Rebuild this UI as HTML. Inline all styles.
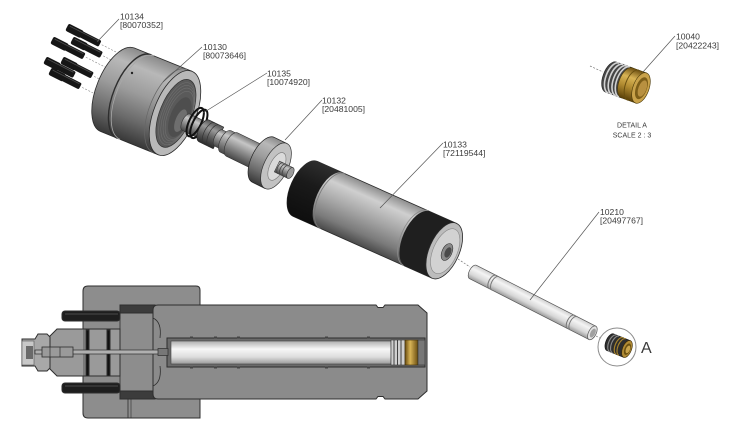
<!DOCTYPE html>
<html><head><meta charset="utf-8"><style>
html,body{margin:0;padding:0;background:#fff;}
svg{display:block;}
text{font-family:"Liberation Sans",sans-serif;fill:#3a3a3a;}
</style></head><body>
<svg width="750" height="426" viewBox="0 0 750 426" xmlns="http://www.w3.org/2000/svg">
<defs>
 <linearGradient id="gA" x1="0" y1="0" x2="0" y2="1">
  <stop offset="0" stop-color="#8a8a8a"/><stop offset="0.18" stop-color="#b8b8b8"/>
  <stop offset="0.45" stop-color="#9c9c9c"/><stop offset="0.75" stop-color="#6a6a6a"/>
  <stop offset="1" stop-color="#383838"/>
 </linearGradient>
 <linearGradient id="gB" x1="0" y1="0" x2="0" y2="1">
  <stop offset="0" stop-color="#8e8e8e"/><stop offset="0.2" stop-color="#cfcfcf"/>
  <stop offset="0.5" stop-color="#a6a6a6"/><stop offset="0.8" stop-color="#7a7a7a"/>
  <stop offset="1" stop-color="#4a4a4a"/>
 </linearGradient>
 <linearGradient id="gR" x1="0" y1="0" x2="0" y2="1">
  <stop offset="0" stop-color="#cfcfcf"/><stop offset="0.3" stop-color="#f4f4f4"/>
  <stop offset="0.7" stop-color="#d6d6d6"/><stop offset="1" stop-color="#9a9a9a"/>
 </linearGradient>
 <linearGradient id="gS" x1="0" y1="0" x2="0" y2="1">
  <stop offset="0" stop-color="#7a7a7a"/><stop offset="0.25" stop-color="#c6c6c6"/>
  <stop offset="0.6" stop-color="#8a8a8a"/><stop offset="1" stop-color="#474747"/>
 </linearGradient>
 <linearGradient id="gH" x1="0" y1="0" x2="0" y2="1">
  <stop offset="0" stop-color="#555"/><stop offset="0.3" stop-color="#9a9a9a"/>
  <stop offset="0.65" stop-color="#5a5a5a"/><stop offset="1" stop-color="#2a2a2a"/>
 </linearGradient>
 <linearGradient id="gK" x1="0" y1="0" x2="0" y2="1">
  <stop offset="0" stop-color="#2e2e2e"/><stop offset="0.4" stop-color="#1a1a1a"/>
  <stop offset="1" stop-color="#0e0e0e"/>
 </linearGradient>
 <linearGradient id="gBr" x1="0" y1="0" x2="0" y2="1">
  <stop offset="0" stop-color="#6a4d10"/><stop offset="0.3" stop-color="#d9b455"/>
  <stop offset="0.6" stop-color="#b08a30"/><stop offset="1" stop-color="#5a4008"/>
 </linearGradient>
 <linearGradient id="gBrH" x1="0" y1="0" x2="1" y2="0">
  <stop offset="0" stop-color="#6a4d10"/><stop offset="0.4" stop-color="#d8b456"/>
  <stop offset="1" stop-color="#6a4d10"/>
 </linearGradient>
 <linearGradient id="gP" x1="0" y1="0" x2="0" y2="1">
  <stop offset="0" stop-color="#aeaeae"/><stop offset="0.35" stop-color="#f7f7f7"/>
  <stop offset="0.7" stop-color="#dcdcdc"/><stop offset="1" stop-color="#9a9a9a"/>
 </linearGradient>
</defs>

<!-- ========== BOLTS 10134 ========== -->
<g fill="#161616">
 <g transform="translate(67,27) rotate(27)"><rect x="0" y="-4" width="17" height="8" rx="2"/><rect x="15" y="-3.4" width="22" height="6.8" rx="1.5"/><line x1="2" y1="-2" x2="35" y2="-2" stroke="#4a4a4a" stroke-width="0.9"/><line x1="39" y1="0" x2="56" y2="0" stroke="#888" stroke-width="0.6" stroke-dasharray="2 1.5"/></g>
 <g transform="translate(52,40) rotate(27)"><rect x="0" y="-4" width="17" height="8" rx="2"/><rect x="15" y="-3.4" width="21" height="6.8" rx="1.5"/><line x1="2" y1="-2" x2="34" y2="-2" stroke="#4a4a4a" stroke-width="0.9"/><line x1="38" y1="0" x2="62" y2="0" stroke="#888" stroke-width="0.6" stroke-dasharray="2 1.5"/></g>
 <g transform="translate(72,40) rotate(27)"><rect x="0" y="-4" width="16" height="8" rx="2"/><rect x="14" y="-3.4" width="19" height="6.8" rx="1.5"/><line x1="2" y1="-2" x2="31" y2="-2" stroke="#4a4a4a" stroke-width="0.9"/><line x1="35" y1="0" x2="48" y2="0" stroke="#888" stroke-width="0.6" stroke-dasharray="2 1.5"/></g>
 <g transform="translate(45,60) rotate(27)"><rect x="0" y="-4" width="16" height="8" rx="2"/><rect x="14" y="-3.4" width="19" height="6.8" rx="1.5"/><line x1="2" y1="-2" x2="31" y2="-2" stroke="#4a4a4a" stroke-width="0.9"/></g>
 <g transform="translate(62,60) rotate(27)"><rect x="0" y="-4" width="16" height="8" rx="2"/><rect x="14" y="-3.4" width="20" height="6.8" rx="1.5"/><line x1="2" y1="-2" x2="32" y2="-2" stroke="#4a4a4a" stroke-width="0.9"/><line x1="36" y1="0" x2="50" y2="0" stroke="#888" stroke-width="0.6" stroke-dasharray="2 1.5"/></g>
 <g transform="translate(50,71) rotate(27)"><rect x="0" y="-4" width="16" height="8" rx="2"/><rect x="14" y="-3.4" width="20" height="6.8" rx="1.5"/><line x1="2" y1="-2" x2="32" y2="-2" stroke="#4a4a4a" stroke-width="0.9"/><line x1="36" y1="0" x2="52" y2="0" stroke="#888" stroke-width="0.6" stroke-dasharray="2 1.5"/></g>
</g>

<!-- ========== CYLINDER 10130 ========== -->
<g transform="translate(175,113) rotate(22)">
 <path d="M-62,-45 H0 V45 H-62 A21,45 0 0 1 -62,-45 Z" fill="url(#gA)" stroke="#2a2a2a" stroke-width="0.8"/>
 <path d="M-44,-45 A21,45 0 0 0 -44,45" fill="none" stroke="#2e2e2e" stroke-width="1.4"/>
 <path d="M-41,-45 A21,45 0 0 0 -41,45" fill="none" stroke="#a8a8a8" stroke-width="0.8"/>
 <path d="M-5,-45 A21,45 0 0 0 -5,45" fill="none" stroke="#666" stroke-width="0.7"/>
 <ellipse cx="0" cy="0" rx="21" ry="45" fill="#b9b9b9" stroke="#2a2a2a" stroke-width="0.8"/>
 <ellipse cx="1" cy="0" rx="16" ry="36" fill="#5a5a5a" stroke="#333" stroke-width="0.7"/>
 <g fill="none" stroke="#707070" stroke-width="0.6">
  <ellipse cx="2" cy="0" rx="14.5" ry="33"/>
  <ellipse cx="3" cy="0" rx="13.5" ry="30.5"/>
  <ellipse cx="4" cy="0" rx="12.5" ry="28"/>
  <ellipse cx="5" cy="0.5" rx="11.5" ry="25.5"/>
 </g>
 <ellipse cx="6" cy="2" rx="9.5" ry="21" fill="#4e4e4e"/>
 <ellipse cx="8" cy="5" rx="5" ry="12" fill="#6e6e6e"/>
</g>
<circle cx="132" cy="73" r="1.2" fill="#222"/>

<!-- ========== VALVE 10132 (back stub) ========== -->
<g transform="translate(276,166) rotate(26)">
 <path d="M-100,-9 H-80 V9 H-100 A4,9 0 0 1 -100,-9Z" fill="url(#gS)" stroke="#333" stroke-width="0.6"/>
</g>
<!-- O-ring 10135 -->
<g transform="translate(197,123) rotate(26)" fill="none" stroke="#111" stroke-width="2">
 <ellipse cx="-2" cy="0" rx="6" ry="15.5"/>
 <ellipse cx="2" cy="0" rx="6" ry="15.5"/>
</g>
<g transform="translate(276,166) rotate(26)">
 <path d="M-80,-12 H-64 V12 H-80 A5.5,12 0 0 1 -80,-12Z" fill="url(#gH)" stroke="#222" stroke-width="0.6"/>
 <path d="M-74,-12 A5.5,12 0 0 0 -74,12" fill="none" stroke="#333" stroke-width="0.7"/>
 <path d="M-69,-12 A5.5,12 0 0 0 -69,12" fill="none" stroke="#333" stroke-width="0.7"/>
 <path d="M-64,-9 H-56 V9 H-64 A4,9 0 0 1 -64,-9Z" fill="url(#gS)" stroke="#333" stroke-width="0.6"/>
 <path d="M-56,-12 H-49 V12 H-56 A5.5,12 0 0 1 -56,-12Z" fill="url(#gS)" stroke="#333" stroke-width="0.6"/>
 <path d="M-49,-13 H-13 V13 H-49 A6,13 0 0 1 -49,-13Z" fill="url(#gS)" stroke="#333" stroke-width="0.6"/>
 <path d="M-14,-25 H0 V25 H-14 A12,25 0 0 1 -14,-25Z" fill="url(#gA)" stroke="#222" stroke-width="0.7"/>
 <ellipse cx="0" cy="0" rx="12" ry="25" fill="#c2c2c2" stroke="#333" stroke-width="0.7"/>
 <ellipse cx="1" cy="0" rx="7" ry="15" fill="#dadada" stroke="#777" stroke-width="0.6"/>
 <rect x="1" y="-6" width="15" height="12" fill="url(#gS)" stroke="#333" stroke-width="0.5"/>
 <g fill="none" stroke="#444" stroke-width="0.8">
  <path d="M5,-6 A3,6 0 0 0 5,6"/><path d="M8,-6 A3,6 0 0 0 8,6"/><path d="M11,-6 A3,6 0 0 0 11,6"/>
 </g>
 <ellipse cx="16" cy="0" rx="3" ry="6" fill="#9a9a9a" stroke="#333" stroke-width="0.6"/>
</g>

<!-- ========== BIG CYLINDER 10133 ========== -->
<g transform="translate(447,252) rotate(24)">
 <path d="M-155,-30 H-3 V30 H-155 A15,30 0 0 1 -155,-30Z" fill="url(#gB)" stroke="#2a2a2a" stroke-width="0.8"/>
 <path d="M-155,-30 H-127 A15,30 0 0 0 -127,30 H-155 A15,30 0 0 1 -155,-30Z" fill="url(#gK)"/>
 <path d="M-125,-30 A15,30 0 0 0 -125,30" fill="none" stroke="#777" stroke-width="0.8"/>
 <path d="M-32,-30 H-3 V30 H-32 A15,30 0 0 1 -32,-30Z" fill="#1f1f1f"/>
 <path d="M-34,-30 A15,30 0 0 0 -34,30" fill="none" stroke="#8a8a8a" stroke-width="0.8"/>
 <ellipse cx="-3" cy="0" rx="15" ry="30" fill="#bcbcbc" stroke="#2a2a2a" stroke-width="0.8"/>
 <ellipse cx="-2" cy="0" rx="12" ry="24" fill="#d2d2d2" stroke="#8a8a8a" stroke-width="0.6"/>
 <ellipse cx="0" cy="0" rx="5" ry="9" fill="#8a8a8a" stroke="#333" stroke-width="0.6"/>
 <ellipse cx="1" cy="0" rx="3" ry="5.5" fill="#4a4a4a"/>
</g>
<line x1="458" y1="259" x2="470" y2="267" stroke="#777" stroke-width="0.7" stroke-dasharray="2 1.5"/>

<!-- ========== ROD 10210 ========== -->
<g transform="translate(473,272) rotate(27)">
 <path d="M0,-7.5 H134 V7.5 H0 A3.8,7.5 0 0 1 0,-7.5Z" fill="url(#gR)" stroke="#555" stroke-width="0.7"/>
 <g fill="none" stroke="#777" stroke-width="1">
  <path d="M22,-7.5 A3.8,7.5 0 0 0 22,7.5"/><path d="M25,-7.5 A3.8,7.5 0 0 0 25,7.5"/>
  <path d="M110,-7.5 A3.8,7.5 0 0 0 110,7.5"/><path d="M113,-7.5 A3.8,7.5 0 0 0 113,7.5"/>
 </g>
 <ellipse cx="134" cy="0" rx="3.8" ry="7.5" fill="#e4e4e4" stroke="#555" stroke-width="0.7"/>
 <ellipse cx="134.5" cy="0" rx="2.4" ry="4.8" fill="#a0a0a0"/>
</g>
<line x1="596" y1="336" x2="605" y2="341" stroke="#777" stroke-width="0.7" stroke-dasharray="2 1.5"/>

<!-- detail circle A -->
<circle cx="617" cy="347" r="19" fill="#fff" stroke="#8c8c8c" stroke-width="1"/>
<g transform="translate(627,349) rotate(22)">
 <path d="M-18,-9 H0 V9 H-18 A4.5,9 0 0 1 -18,-9Z" fill="#2e2e2e" stroke="#111" stroke-width="0.6"/>
 <g fill="none" stroke-width="1.1">
  <path d="M-15,-9 A4.5,9 0 0 0 -15,9" stroke="#8a8a8a"/>
  <path d="M-12,-9 A4.5,9 0 0 0 -12,9" stroke="#8a8a8a"/>
  <path d="M-8,-9 A4.5,9 0 0 0 -8,9" stroke="#a8842c"/>
  <path d="M-5,-9 A4.5,9 0 0 0 -5,9" stroke="#a8842c"/>
 </g>
 <ellipse cx="0" cy="0" rx="4.5" ry="9" fill="#b08a34" stroke="#3a2a08" stroke-width="0.6"/>
 <ellipse cx="0.5" cy="0" rx="3" ry="6" fill="#6a5010"/>
 <ellipse cx="1" cy="0" rx="2" ry="4" fill="#c9a44c"/>
</g>
<text x="641" y="353" font-size="16" fill="#333">A</text>

<!-- ========== DETAIL A (top right) ========== -->
<line x1="590" y1="66" x2="603" y2="72" stroke="#777" stroke-width="0.7" stroke-dasharray="2 1.5"/>
<g transform="translate(641,88) rotate(20)">
 <path d="M-32,-16 H-15 V16 H-32 A8,16 0 0 1 -32,-16Z" fill="#454545" stroke="#222" stroke-width="0.6"/>
 <g fill="none" stroke="#d2d2d2" stroke-width="1.6">
  <path d="M-29,-16 A8,16 0 0 0 -29,16"/><path d="M-25,-16 A8,16 0 0 0 -25,16"/>
  <path d="M-21,-16 A8,16 0 0 0 -21,16"/><path d="M-17.5,-16 A8,16 0 0 0 -17.5,16"/>
 </g>
 <path d="M-15,-16 H0 V16 H-15 A8,16 0 0 1 -15,-16Z" fill="url(#gBr)" stroke="#4a3808" stroke-width="0.6"/>
 <path d="M-8,-16 A8,16 0 0 0 -8,16" fill="none" stroke="#6a5010" stroke-width="1"/>
 <ellipse cx="0" cy="0" rx="8" ry="16" fill="#c9a24a" stroke="#4a3808" stroke-width="0.6"/>
 <ellipse cx="0.5" cy="0" rx="5.5" ry="11.5" fill="#7d5e18"/>
 <ellipse cx="1.5" cy="0" rx="4" ry="8.5" fill="#b89040"/>
</g>
<text x="632" y="127.5" font-size="7" text-anchor="middle" fill="#555">DETAIL A</text>
<text x="632" y="137.5" font-size="7" text-anchor="middle" fill="#555">SCALE 2 : 3</text>

<!-- ========== LEADERS & LABELS ========== -->
<g stroke="#555" stroke-width="0.7" fill="none">
 <line x1="119" y1="19" x2="97" y2="42"/>
 <line x1="202" y1="47" x2="163" y2="82"/>
 <line x1="267" y1="73" x2="203" y2="113"/>
 <line x1="322" y1="100" x2="285" y2="140"/>
 <line x1="443" y1="143" x2="380" y2="208"/>
 <line x1="599" y1="212" x2="530" y2="300"/>
 <line x1="675" y1="36" x2="643" y2="72"/>
</g>
<g font-size="8.6">
 <text x="120" y="19.5">10134</text><text x="120" y="28">[80070352]</text>
 <text x="203" y="50">10130</text><text x="203" y="58.5">[80073646]</text>
 <text x="267" y="76.5">10135</text><text x="267" y="85">[10074920]</text>
 <text x="322" y="103.5">10132</text><text x="322" y="112">[20481005]</text>
 <text x="443" y="147.5">10133</text><text x="443" y="156">[72119544]</text>
 <text x="600" y="215">10210</text><text x="600" y="223.5">[20497767]</text>
 <text x="676" y="39.5">10040</text><text x="676" y="48.5">[20422243]</text>
</g>

<!-- ========== SECTION VIEW ========== -->
<g stroke="#2e2e2e" stroke-width="1">
 <path d="M88,286 H196 Q200,286 200,290 V418 H88 Q83,418 83,413 V291 Q83,286 88,286Z" fill="#8d8d8d"/>
 <line x1="128" y1="399" x2="128" y2="418" stroke-width="0.8"/>
 <line x1="131" y1="399" x2="131" y2="418" stroke-width="0.6"/>
 <line x1="120" y1="305" x2="120" y2="399" stroke-width="0.8"/>
 <rect x="120" y="305" width="35" height="8" fill="#3c3c3c"/>
 <rect x="120" y="391" width="35" height="8" fill="#3c3c3c"/>
 <path d="M158,305 H376 L378,307.5 H383 L385,305 H418 L427,313 V391 L418,399 H385 L383,396.5 H378 L376,399 H158 Q153,399 153,394 V310 Q153,305 158,305 Z" fill="#8b8b8b"/>
 <path d="M153,318 Q162,322 160,338" fill="none" stroke-width="0.8"/>
 <path d="M153,386 Q162,382 160,366" fill="none" stroke-width="0.8"/>
 <rect x="167" y="338" width="258" height="29" fill="#6a6a6a"/>
 <rect x="171" y="341" width="220" height="23" fill="url(#gP)" stroke="#444" stroke-width="0.6"/>
 <rect x="391" y="340" width="14" height="25" fill="#cfcfcf" stroke="#333" stroke-width="0.6"/>
 <g stroke="#333" stroke-width="0.9"><line x1="394" y1="340" x2="394" y2="365"/><line x1="397.5" y1="340" x2="397.5" y2="365"/><line x1="401" y1="340" x2="401" y2="365"/></g>
 <rect x="405" y="340" width="13" height="25" fill="url(#gBrH)" stroke="#3a2a08" stroke-width="0.6"/>
 <rect x="418" y="340" width="7" height="25" fill="#777" stroke="#333" stroke-width="0.6"/>
 <g fill="#444" stroke="none">
  <rect x="190" y="336.5" width="3" height="2"/><rect x="214" y="336.5" width="3" height="2"/><rect x="237" y="336.5" width="3" height="2"/>
  <rect x="190" y="366.5" width="3" height="2"/><rect x="214" y="366.5" width="3" height="2"/><rect x="237" y="366.5" width="3" height="2"/>
  <rect x="325" y="336.5" width="3" height="2"/><rect x="367" y="336.5" width="3" height="2"/>
  <rect x="325" y="366.5" width="3" height="2"/><rect x="367" y="366.5" width="3" height="2"/>
 </g>
 <path d="M49,337 L57,329 H120 V376 H57 L49,368 Z" fill="#9a9a9a"/>
 <path d="M84,329 V376" fill="none" stroke-width="0.6"/>
 <rect x="86" y="330" width="3" height="46" fill="#111"/>
 <rect x="107" y="330" width="3" height="46" fill="#111"/>
 <path d="M22,339 H35 L38,334 H47 L50,337 V368 L47,371 H38 L35,366 H22 Z" fill="#a8a8a8"/>
 <rect x="22" y="341" width="12" height="24" fill="#c8c8c8" stroke="#555" stroke-width="0.6"/>
 <rect x="26" y="346" width="7" height="13" fill="#6a6a6a" stroke="none"/>
 <rect x="35" y="350" width="125" height="4" fill="#b0b0b0" stroke-width="0.7"/>
 <rect x="42" y="347" width="31" height="10" fill="#9a9a9a" stroke-width="0.8"/>
 <line x1="50" y1="347" x2="50" y2="357" stroke-width="0.7"/>
 <line x1="60" y1="347" x2="60" y2="357" stroke-width="0.7"/>
 <rect x="158" y="348.5" width="10" height="7" fill="#777" stroke-width="0.7"/>
 <rect x="62" y="311" width="58" height="10" rx="3" fill="#1e1e1e"/>
 <line x1="65" y1="314" x2="118" y2="314" stroke="#4a4a4a" stroke-width="1"/>
 <rect x="62" y="383" width="58" height="10" rx="3" fill="#1e1e1e"/>
 <line x1="65" y1="386" x2="118" y2="386" stroke="#4a4a4a" stroke-width="1"/>
</g>
</svg>
</body></html>
